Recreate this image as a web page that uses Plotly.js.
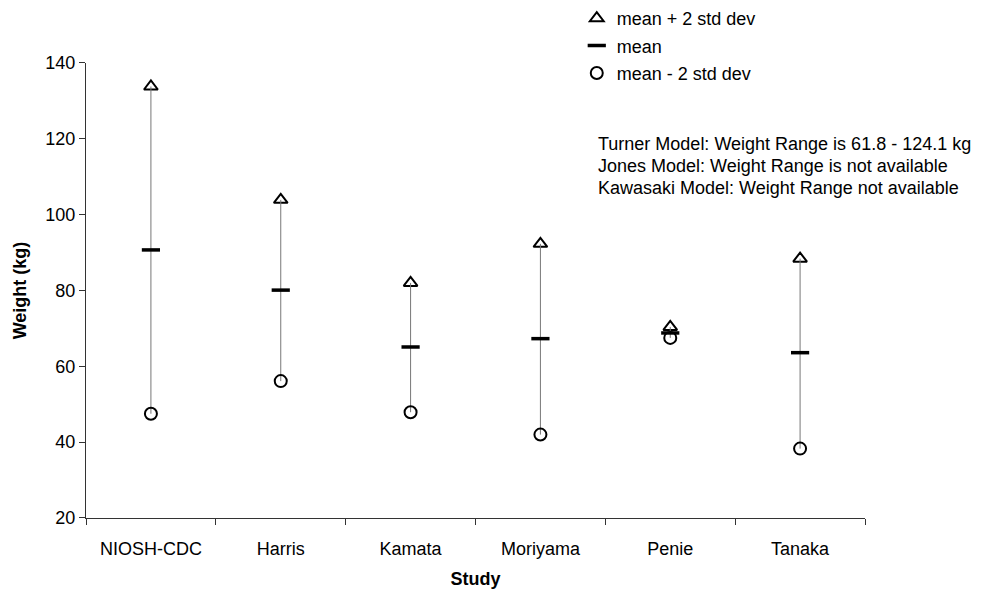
<!DOCTYPE html>
<html>
<head>
<meta charset="utf-8">
<script src="https://cdn.plot.ly/plotly-3.0.1.min.js"></script>
<style>html,body{margin:0;padding:0;background:#fff;}#chart{width:1002px;height:590px;}</style>
</head>
<body>
<div id="chart"></div>
<script>
const studies = ["NIOSH-CDC", "Harris", "Kamata", "Moriyama", "Penie", "Tanaka"];
const meanPlus2SD = [133.8, 103.9, 82.0, 92.3, 70.4, 88.4];
const meanVals = [90.7, 80.1, 65.1, 67.3, 68.8, 63.6];
const meanMinus2SD = [47.5, 56.1, 47.9, 42.0, 67.5, 38.3];
const yTicks = [20, 40, 60, 80, 100, 120, 140];
const notes = [
  "Turner Model: Weight Range is 61.8 - 124.1 kg",
  "Jones Model: Weight Range is not available",
  "Kawasaki Model: Weight Range not available"
];

const FONT = "Liberation Sans, Arial, sans-serif";
const FS = 18;

const traces = [
  {
    type: "scatter", mode: "markers", name: "mean + 2 std dev",
    x: studies, y: meanPlus2SD, legendgroup: "a",
    marker: {symbol: "triangle-up-open", size: 12, color: "#000", line: {color: "#000", width: 2}}
  },
  {
    type: "scatter", mode: "markers", name: "mean",
    x: studies, y: meanVals, legendgroup: "b",
    marker: {symbol: "line-ew", size: 13, color: "#000", line: {color: "#000", width: 3.5}},
    error_y: {
      type: "data", symmetric: false,
      array: meanPlus2SD.map((v, i) => v - meanVals[i]),
      arrayminus: meanVals.map((v, i) => v - meanMinus2SD[i]),
      width: 0, thickness: 1, color: "#777"
    }
  },
  {
    type: "scatter", mode: "markers", name: "mean - 2 std dev",
    x: studies, y: meanMinus2SD, legendgroup: "c",
    marker: {symbol: "circle-open", size: 12, color: "#000", line: {color: "#000", width: 2}}
  }
];

const annotations = notes.map((t, i) => ({
  xref: "paper", yref: "paper",
  x: 0.655, y: 0.722 - i * 0.0425,
  xanchor: "left", yanchor: "middle",
  text: t, showarrow: false,
  font: {family: FONT, size: FS, color: "#000"}
}));

const layout = {
  width: 1002, height: 590,
  margin: {l: 86, r: 137, t: 0, b: 72},
  paper_bgcolor: "#fff", plot_bgcolor: "#fff",
  font: {family: FONT, size: FS, color: "#000"},
  showlegend: true,
  legend: {
    x: 0.63, y: 1, xanchor: "left", yanchor: "top",
    traceorder: "grouped", tracegroupgap: 1,
    font: {family: FONT, size: FS, color: "#000"},
    itemwidth: 30, bgcolor: "rgba(0,0,0,0)"
  },
  xaxis: {
    type: "category", range: [-0.5, 5.5],
    tickson: "boundaries", ticks: "outside", ticklen: 6, tickcolor: "#333",
    showline: true, linecolor: "#333", linewidth: 1,
    showgrid: false, zeroline: false, automargin: false, tickangle: 0,
    ticklabelstandoff: 14,
    tickfont: {family: FONT, size: FS, color: "#000"},
    title: {text: "Study", font: {family: FONT, size: FS, color: "#000", weight: "bold"}, standoff: 14}
  },
  yaxis: {
    domain: [0, 0.8784],
    range: [20, 140], tickvals: yTicks, ticktext: yTicks.map(String),
    ticks: "outside", ticklen: 6, tickcolor: "#333",
    showline: true, linecolor: "#333", linewidth: 1,
    showgrid: false, zeroline: false, automargin: false,
    tickfont: {family: FONT, size: FS, color: "#000"},
    title: {text: "Weight (kg)", font: {family: FONT, size: FS, color: "#000", weight: "bold"}, standoff: 14}
  },
  annotations: annotations
};

Plotly.newPlot("chart", traces, layout, {staticPlot: true, displayModeBar: false});
</script>
</body>
</html>
